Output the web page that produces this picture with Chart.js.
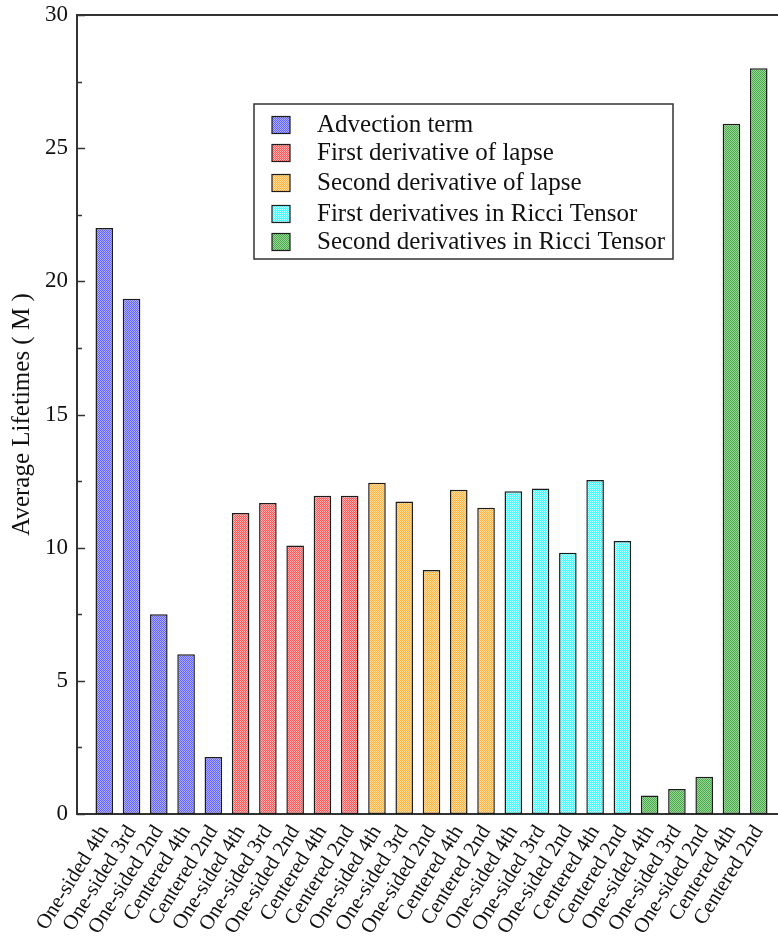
<!DOCTYPE html>
<html>
<head>
<meta charset="utf-8">
<script src="https://cdn.jsdelivr.net/npm/chart.js@4"></script>
<style>
  html, body { margin: 0; padding: 0; background: #fff; overflow: hidden; }
  canvas { display: block; }
</style>
</head>
<body>
<canvas id="c" width="800" height="936"></canvas>
<script>
// Difference schemes tested for each term
const schemes = ['One-sided 4th', 'One-sided 3rd', 'One-sided 2nd', 'Centered 4th', 'Centered 2nd'];

// Term names (legend order)
const terms = [
  'Advection term',
  'First derivative of lapse',
  'Second derivative of lapse',
  'First derivatives in Ricci Tensor',
  'Second derivatives in Ricci Tensor'
];

// Average lifetimes (M) per scheme, one array per term
const advection     = [22.0, 19.35, 7.5, 6.0, 2.14];
const firstLapse    = [11.3, 11.68, 10.08, 11.95, 11.95];
const secondLapse   = [12.44, 11.73, 9.16, 12.17, 11.5];
const firstRicci    = [12.12, 12.22, 9.81, 12.54, 10.25];
const secondRicci   = [0.69, 0.94, 1.40, 25.92, 28.0];

// Y axis tick values
const yTicks = [0, 5, 10, 15, 20, 25, 30];

const series = [advection, firstLapse, secondLapse, firstRicci, secondRicci];

// Two-tone dithered fills
const fillTones = [
  ['#6262ff', '#b0b0ff'],
  ['#ff5a5a', '#ffb0b0'],
  ['#ffb648', '#ffdc98'],
  ['#48ffff', '#b8ffff'],
  ['#4aa84a', '#98d898']
];
function makePattern(a, b) {
  const t = document.createElement('canvas');
  t.width = 2; t.height = 2;
  const g = t.getContext('2d');
  g.fillStyle = b; g.fillRect(0, 0, 2, 2);
  g.fillStyle = a; g.fillRect(0, 0, 1, 1); g.fillRect(1, 1, 1, 1);
  return g.createPattern(t, 'repeat');
}
const patterns = fillTones.map(p => makePattern(p[0], p[1]));

// Category labels: every term repeats the five schemes, padded with an empty slot at each end
const labels = [''];
terms.forEach(() => schemes.forEach(s => labels.push(s)));
labels.push('');

const datasets = series.map((vals, k) => {
  const data = new Array(labels.length).fill(null);
  vals.forEach((v, i) => { data[1 + k * schemes.length + i] = v; });
  return {
    label: terms[k],
    data,
    backgroundColor: patterns[k],
    borderColor: '#1c1c1c',
    borderWidth: 1.5,
    borderSkipped: false,
    grouped: false,
    categoryPercentage: 1,
    barPercentage: 0.645
  };
});

const SERIF = '"Liberation Serif", "DejaVu Serif", serif';

// Inward major/minor ticks on the value axis and the top frame line
const framePlugin = {
  id: 'frame',
  afterDatasetsDraw(chart) {
    const { ctx, chartArea: a, scales: { y } } = chart;
    ctx.save();
    ctx.strokeStyle = '#333';
    ctx.lineWidth = 1.5;
    for (let v = 0; v <= 30; v += 2.5) {
      const py = Math.round(y.getPixelForValue(v)) + 0.5;
      const len = (v % 5 === 0) ? 8 : 5;
      ctx.beginPath();
      ctx.moveTo(a.left, py);
      ctx.lineTo(a.left + len, py);
      ctx.stroke();
    }
    ctx.lineWidth = 2;
    ctx.beginPath();
    ctx.moveTo(a.left - 1, a.top);
    ctx.lineTo(a.right, a.top);
    ctx.lineTo(a.right, a.bottom);
    ctx.stroke();
    ctx.restore();
  }
};

// Boxed legend inside the plot
const boxLegend = {
  id: 'boxLegend',
  afterDraw(chart) {
    const { ctx } = chart;
    const box = { x: 254, y: 104, w: 419, h: 155 };
    const rows = [125, 153, 183, 214, 242];
    ctx.save();
    ctx.fillStyle = '#fff';
    ctx.fillRect(box.x, box.y, box.w, box.h);
    ctx.strokeStyle = '#333';
    ctx.lineWidth = 1.5;
    ctx.strokeRect(box.x, box.y, box.w, box.h);
    chart.data.datasets.forEach((ds, i) => {
      const cy = rows[i];
      ctx.fillStyle = ds.backgroundColor;
      ctx.fillRect(272, cy - 8.5, 18, 17);
      ctx.strokeStyle = '#1c1c1c';
      ctx.lineWidth = 1.2;
      ctx.strokeRect(272, cy - 8.5, 18, 17);
      ctx.fillStyle = '#111';
      ctx.font = '25px ' + SERIF;
      ctx.textBaseline = 'middle';
      ctx.fillText(ds.label, 317, cy);
    });
    ctx.restore();
  }
};

function noScalePadding(s) {
  s.paddingLeft = 0; s.paddingRight = 0; s.paddingTop = 0; s.paddingBottom = 0;
}

new Chart(document.getElementById('c'), {
  type: 'bar',
  data: { labels, datasets },
  options: {
    responsive: false,
    animation: false,
    devicePixelRatio: 1,
    layout: { padding: { top: 15, right: 14, left: 0, bottom: 0 } },
    plugins: { legend: { display: false }, tooltip: { enabled: false } },
    scales: {
      x: {
        offset: false,
        grid: { display: false, drawTicks: false },
        border: { display: true, color: '#333', width: 2 },
        ticks: {
          autoSkip: false,
          minRotation: 58,
          maxRotation: 58,
          padding: 7,
          color: '#111',
          font: { family: SERIF, size: 21 }
        },
        afterFit(s) { s.height = 122; noScalePadding(s); }
      },
      y: {
        min: 0,
        max: 30,
        afterBuildTicks(s) { s.ticks = yTicks.map(v => ({ value: v })); },
        grid: { display: false, drawTicks: false },
        border: { display: true, color: '#333', width: 2 },
        ticks: {
          padding: 9,
          color: '#111',
          font: { family: SERIF, size: 23 }
        },
        title: {
          display: true,
          text: 'Average Lifetimes ( M )',
          color: '#111',
          font: { family: SERIF, size: 25 },
          padding: { top: 7, bottom: 0 }
        },
        afterFit(s) { s.width = 77; noScalePadding(s); }
      }
    }
  },
  plugins: [framePlugin, boxLegend]
});
</script>
</body>
</html>
